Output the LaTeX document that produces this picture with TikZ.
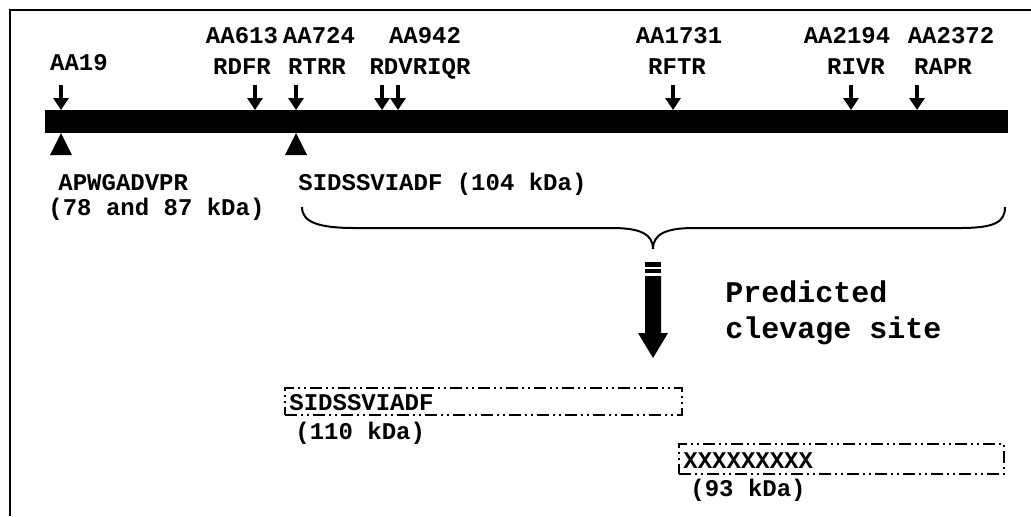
\documentclass[tikz,border=0pt]{standalone}
\usepackage{fontspec}
\setmainfont{Liberation Mono}
\usetikzlibrary{arrows.meta}

\begin{document}
\begin{tikzpicture}[x=0.5pt, y=-0.5pt, >={Triangle[width=7.5pt,length=6pt]},
  lbl/.style={inner sep=0pt, anchor=base, font=\bfseries\fontsize{12}{12}\selectfont},
  lblw/.style={lbl, anchor=base west},
  cut/.style={->, line width=1.6pt},
  frag/.style={draw, line width=1.1pt, inner sep=0pt,
    dash pattern=on 6pt off 2pt on 1pt off 2pt on 1pt off 2pt}]
\useasboundingbox (0,0) rectangle (1031,516);
\draw[line width=1pt] (10,516) -- (10,10) -- (1031,10);
% the chain
\node[fill, inner sep=0pt, minimum width=481.5pt, minimum height=11.5pt] (bar) at (526.5,121.5) {};
% cut sites above the chain
\foreach \x/\n in {61/a,255/b,296/c,382/d,398/e,673/f,851/g,917/h} {
  \coordinate (top\n) at (\x,85);
  \coordinate (hit\n) at (\x,110);
  \draw[cut] (top\n) -- (hit\n);
}
\node[lbl] (aa19) at (79,70) {AA19};
\node[lbl] (aa613) at (242,43) {AA613};
\node[lbl] (rdfr) at (242,74) {RDFR};
\node[lbl] (aa724) at (319,43) {AA724};
\node[lbl] (rtrr) at (317,74) {RTRR};
\node[lbl] (aa942) at (425,43) {AA942};
\node[lbl] (rdvriqr) at (420,74) {RDVRIQR};
\node[lbl] (aa1731) at (679,43) {AA1731};
\node[lbl] (rftr) at (677,74) {RFTR};
\node[lbl] (aa2194) at (847,43) {AA2194};
\node[lbl] (rivr) at (856,74) {RIVR};
\node[lbl] (aa2372) at (951,43) {AA2372};
\node[lbl] (rapr) at (943,74) {RAPR};
% N-termini below the chain
\foreach \x in {61,296}
  \fill (\x,133) -- (\x+11,155) -- (\x-11,155) -- cycle;
\node[lblw] (nt1) at (58,190) {APWGADVPR};
\node[lblw] (mw1) at (48,215) {(78 and 87 kDa)};
\node[lblw] (nt2) at (298,190) {SIDSSVIADF (104 kDa)};
% brace
\draw[line width=1pt] (302,207) .. controls (302,222) and (318,228) .. (355,228)
  -- (612,228) .. controls (640,228) and (653,234) .. (653,249)
  .. controls (653,234) and (666,228) .. (694,228)
  -- (960,228) .. controls (995,228) and (1005,222) .. (1005,207);
% big arrow
\fill (645,262) rectangle (661,267);
\fill (645,269) rectangle (661,273);
\fill (645,276) -- (661,276) -- (661,333) -- (668,333) -- (653,358)
  -- (638,333) -- (645,333) -- cycle;
\node[lblw, font=\bfseries\fontsize{15}{15}\selectfont] (pred1) at (725,302) {Predicted};
\node[lblw, font=\bfseries\fontsize{15}{15}\selectfont] (pred2) at (725,338) {clevage site};
% fragments
\node[frag, minimum width=198.5pt, minimum height=13.5pt] (box1) at (483.5,401.5) {};
\node[lblw] (seq1) at (289,410) {SIDSSVIADF};
\node[lblw] (mw2) at (295,439) {(110 kDa)};
\node[frag, minimum width=162.5pt, minimum height=15pt] (box2) at (841.5,459) {};
\node[lblw] (seq2) at (683,468) {XXXXXXXXX};
\node[lblw] (mw3) at (690,496) {(93 kDa)};
\end{tikzpicture}
\end{document}
